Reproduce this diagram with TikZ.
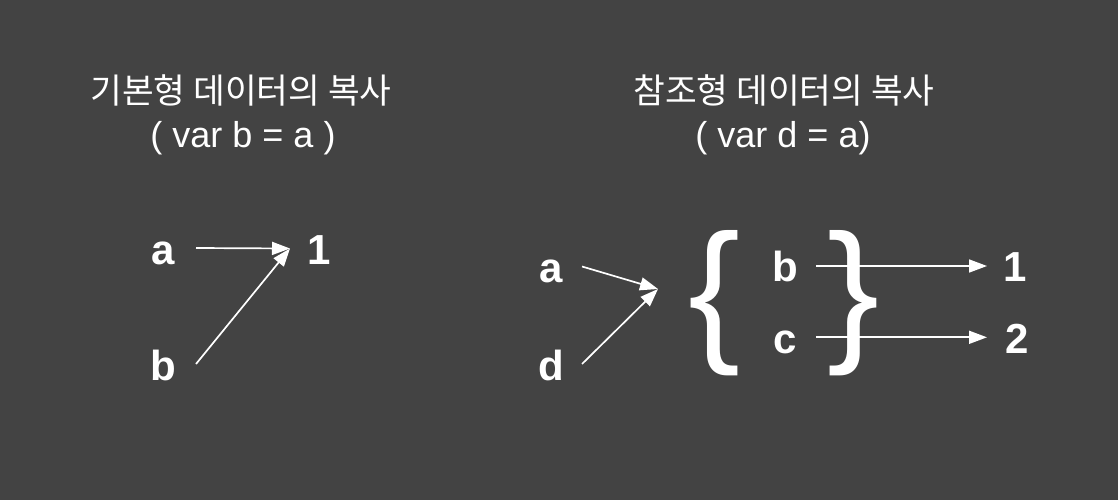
\documentclass[tikz,border=0pt]{standalone}
\usepackage{fontspec}
\setmainfont{Liberation Sans}
\newfontfamily\krfont{Noto Sans CJK KR}
\usetikzlibrary{arrows.meta}
\definecolor{bgc}{HTML}{434343}
\tikzset{
  title/.style={text=white, inner sep=0pt, anchor=base, font=\krfont\fontsize{34.5}{34.5}\selectfont},
  code/.style={text=white, inner sep=0pt, anchor=base, font=\fontsize{36}{36}\selectfont},
  lett/.style={text=white, inner sep=0pt, anchor=base, font=\bfseries\fontsize{42}{42}\selectfont},
  brace/.style={text=white, inner sep=0pt, anchor=base, font=\fontsize{156}{156}\selectfont},
  arr/.style={draw=white, line width=1.7pt, -{Triangle[length=18pt,width=13pt]}}
}
\begin{document}
\begin{tikzpicture}[x=1pt,y=-1pt]
\fill[bgc] (0,0) rectangle (1118,500);
\useasboundingbox (0,0) rectangle (1118,500);
% titles
\node[title] (t1) at (241,103) {기본형 데이터의 복사};
\node[code] (c1) at (243,147) {( var b = a )};
\node[title] (t2) at (784,103) {참조형 데이터의 복사};
\node[code] (c2) at (783,147) {( var d = a)};
% left diagram
\node[lett] (la) at (163,264) {a};
\node[lett] (lb) at (163,380) {b};
\node[lett] (l1) at (319,264) {1};
\coordinate (las) at (196,248);
\coordinate (lbs) at (196,364);
\coordinate (l1t) at (290,248.5);
\draw[arr] (las) -- (l1t);
\draw[arr] (lbs) -- (l1t);
% right diagram
\node[lett] (ra) at (551,282) {a};
\node[lett] (rd) at (551,380) {d};
\node[brace] (bl) at (715,343.6) {\{};
\node[brace] (br) at (854,343.6) {\}};
\node[lett] (rb) at (785,281) {b};
\node[lett] (rc) at (785,353) {c};
\node[lett] (r1) at (1015,281) {1};
\node[lett] (r2) at (1017,353) {2};
\coordinate (ras) at (582,266.5);
\coordinate (rds) at (582,364);
\coordinate (m) at (658,289);
\draw[arr] (ras) -- (m);
\draw[arr] (rds) -- (m);
\coordinate (rbs) at (816,266);
\coordinate (rbt) at (987,266);
\coordinate (rcs) at (816,337.3);
\coordinate (rct) at (987,337.3);
\draw[arr] (rbs) -- (rbt);
\draw[arr] (rcs) -- (rct);
\end{tikzpicture}
\end{document}
